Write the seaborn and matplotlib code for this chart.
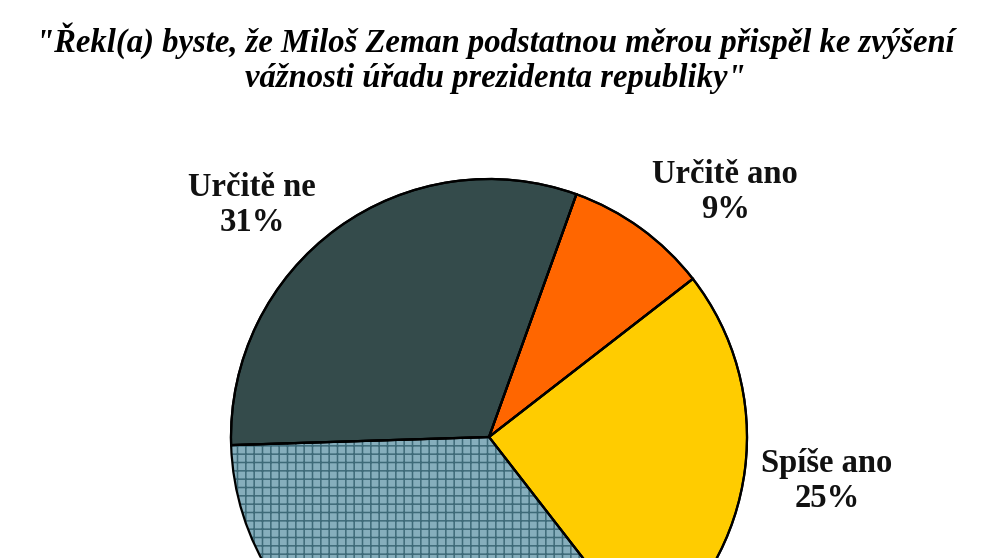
import matplotlib.pyplot as plt
import seaborn as sns

sns.set_theme(style="white")
plt.rcParams['font.family'] = ['Liberation Serif', 'DejaVu Serif']
plt.rcParams['hatch.linewidth'] = 1.1

# --- data ---
categories = ['Určitě ano', 'Spíše ano', 'Spíše ne', 'Určitě ne']
shares = [9, 25, 35, 31]
slice_colors = ['#FF6600', '#FFCC00', '#86AEBC', '#344B4B']
title = '"Řekl(a) byste, že Miloš Zeman podstatnou měrou přispěl ke zvýšení\nvážnosti úřadu prezidenta republiky"'

# label positions in pie units (radius = 1)
label_pos = [(0.915, 0.95), (1.31, -0.17), (-0.55, -1.3), (-0.919, 0.899)]

W, H = 991, 558
fig = plt.figure(figsize=(W / 100, H / 100), dpi=100)
fig.patch.set_facecolor('white')

cx, cy, r = 489, 437, 258
ax = fig.add_axes([(cx - r) / W, (H - cy - r) / H, 2 * r / W, 2 * r / H])

palette = sns.color_palette(slice_colors)

wedges, _ = ax.pie(shares, colors=palette, startangle=70.2, counterclock=False,
                   radius=1, wedgeprops=dict(edgecolor='black', linewidth=1.6))
# hatched slice: hatch colour follows the edge colour, so outline it separately
wedges[2].set_hatch('++')
wedges[2].set_edgecolor('#3E6A78')
wedges[2].set_linewidth(0)
ax.pie(shares, colors=['none'] * 4, startangle=70.2, counterclock=False,
       radius=1, wedgeprops=dict(edgecolor='black', linewidth=1.6, fill=False))

# pie() resets the limits, so fix them afterwards
ax.set_xlim(-1, 1)
ax.set_ylim(-1, 1)
ax.set_aspect('equal')
ax.axis('off')

for cat, val, (x, y) in zip(categories, shares, label_pos):
    ax.text(x, y, f'{cat}\n{val}%', ha='center', va='center', fontsize=23.5,
            fontweight='bold', linespacing=1.15, color='#111111', clip_on=False)

fig.text(0.5, 1 - 58 / H, title, ha='center', va='center', fontsize=23.5,
         fontweight='bold', fontstyle='italic', linespacing=1.15, color='black')

plt.savefig('out.png', dpi=100)
